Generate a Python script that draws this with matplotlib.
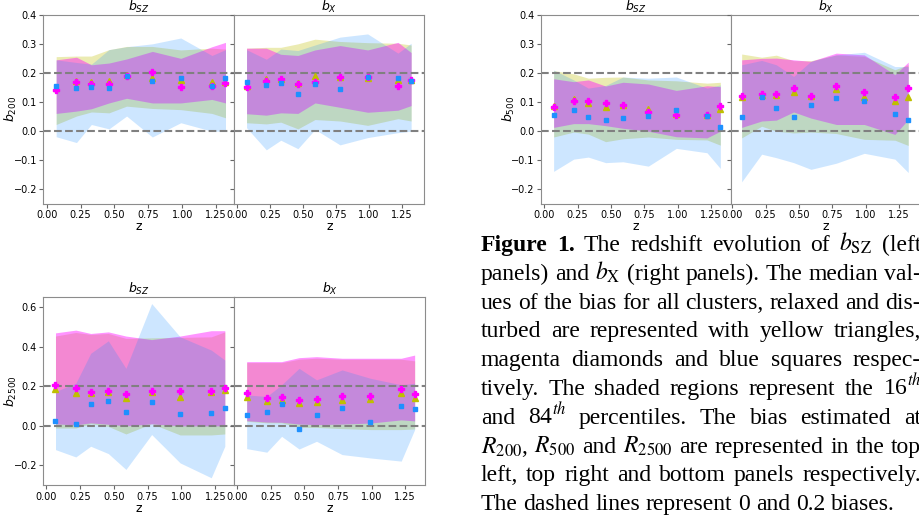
import matplotlib
matplotlib.use("Agg")
import matplotlib.pyplot as plt

# redshift snapshots
z = [0.07, 0.22, 0.33, 0.46, 0.59, 0.78, 0.99, 1.22, 1.32]

# ---- b200, SZ ----
b200_sz_all = [0.147, 0.171, 0.170, 0.172, 0.193, 0.181, 0.176, 0.168, 0.168]
b200_sz_rel = [0.143, 0.169, 0.161, 0.162, 0.191, 0.204, 0.152, 0.156, 0.166]
b200_sz_dis = [0.156, 0.147, 0.153, 0.150, 0.191, 0.173, 0.183, 0.156, 0.184]
b200_sz_all_lo = [0.023, 0.052, 0.066, 0.063, 0.086, 0.078, 0.074, 0.061, 0.046]
b200_sz_all_hi = [0.256, 0.258, 0.258, 0.280, 0.291, 0.291, 0.279, 0.285, 0.282]
b200_sz_rel_lo = [0.061, 0.069, 0.077, 0.097, 0.113, 0.097, 0.097, 0.109, 0.097]
b200_sz_rel_hi = [0.245, 0.254, 0.228, 0.234, 0.248, 0.274, 0.250, 0.290, 0.305]
b200_sz_dis_lo = [-0.019, -0.039, 0.023, 0.008, 0.052, -0.020, 0.029, 0.000, 0.000]
b200_sz_dis_hi = [0.245, 0.236, 0.230, 0.280, 0.290, 0.300, 0.320, 0.260, 0.280]

# ---- b200, X ----
b200_x_all = [0.156, 0.179, 0.179, 0.165, 0.191, 0.185, 0.181, 0.177, 0.176]
b200_x_rel = [0.152, 0.173, 0.178, 0.162, 0.169, 0.186, 0.185, 0.154, 0.177]
b200_x_dis = [0.168, 0.158, 0.167, 0.127, 0.163, 0.145, 0.185, 0.183, 0.171]
b200_x_all_lo = [0.029, 0.025, 0.031, 0.008, 0.040, 0.035, 0.020, 0.043, 0.035]
b200_x_all_hi = [0.285, 0.288, 0.288, 0.300, 0.316, 0.308, 0.304, 0.302, 0.296]
b200_x_rel_lo = [0.060, 0.055, 0.063, 0.061, 0.097, 0.082, 0.065, 0.072, 0.088]
b200_x_rel_hi = [0.285, 0.285, 0.264, 0.260, 0.279, 0.294, 0.279, 0.305, 0.270]
b200_x_dis_lo = [0.012, -0.064, -0.031, -0.060, 0.006, -0.047, -0.022, -0.005, 0.000]
b200_x_dis_hi = [0.280, 0.247, 0.282, 0.277, 0.296, 0.323, 0.334, 0.268, 0.302]

# ---- b500, SZ ----
b500_sz_all = [0.088, 0.109, 0.097, 0.082, 0.091, 0.076, 0.060, 0.057, 0.077]
b500_sz_rel = [0.082, 0.104, 0.104, 0.098, 0.090, 0.066, 0.056, 0.054, 0.088]
b500_sz_dis = [0.054, 0.074, 0.048, 0.038, 0.046, 0.053, 0.073, 0.051, 0.015]
b500_sz_all_lo = [-0.020, -0.003, -0.010, -0.036, -0.026, -0.020, -0.028, -0.030, -0.048]
b500_sz_all_hi = [0.208, 0.197, 0.182, 0.185, 0.186, 0.176, 0.173, 0.165, 0.168]
b500_sz_rel_lo = [0.013, 0.026, 0.026, 0.019, 0.010, 0.000, -0.019, -0.023, 0.000]
b500_sz_rel_hi = [0.180, 0.170, 0.176, 0.155, 0.168, 0.162, 0.140, 0.156, 0.153]
b500_sz_dis_lo = [-0.138, -0.096, -0.089, -0.108, -0.105, -0.120, -0.059, -0.074, -0.128]
b500_sz_dis_hi = [0.210, 0.176, 0.148, 0.157, 0.186, 0.182, 0.186, 0.148, 0.159]

# ---- b500, X ----
b500_x_all = [0.117, 0.125, 0.125, 0.136, 0.120, 0.146, 0.118, 0.105, 0.117]
b500_x_rel = [0.120, 0.127, 0.127, 0.147, 0.121, 0.156, 0.136, 0.118, 0.147]
b500_x_dis = [0.049, 0.118, 0.080, 0.048, 0.090, 0.114, 0.105, 0.060, 0.040]
b500_x_all_lo = [-0.023, 0.017, 0.000, -0.006, -0.003, -0.008, -0.028, -0.031, -0.049]
b500_x_all_hi = [0.265, 0.254, 0.261, 0.242, 0.242, 0.262, 0.257, 0.211, 0.228]
b500_x_rel_lo = [0.013, 0.035, 0.038, 0.066, 0.045, 0.023, 0.023, -0.011, 0.040]
b500_x_rel_hi = [0.245, 0.250, 0.251, 0.245, 0.240, 0.268, 0.262, 0.194, 0.237]
b500_x_dis_lo = [-0.174, -0.079, -0.091, -0.108, -0.131, -0.110, -0.076, -0.096, -0.142]
b500_x_dis_hi = [0.228, 0.243, 0.228, 0.188, 0.240, 0.262, 0.271, 0.222, 0.222]

# ---- b2500, SZ ----
b2500_sz_all = [0.187, 0.168, 0.168, 0.173, 0.141, 0.173, 0.146, 0.173, 0.182]
b2500_sz_rel = [0.207, 0.193, 0.170, 0.178, 0.163, 0.177, 0.175, 0.177, 0.190]
b2500_sz_dis = [0.026, 0.009, 0.110, 0.123, 0.068, 0.120, 0.061, 0.064, 0.091]
b2500_sz_all_lo = [-0.011, -0.011, 0.011, -0.003, -0.041, 0.011, -0.046, -0.046, -0.041]
b2500_sz_all_hi = [0.453, 0.471, 0.461, 0.466, 0.441, 0.444, 0.446, 0.449, 0.474]
b2500_sz_rel_lo = [0.010, 0.005, 0.015, 0.008, 0.000, 0.010, 0.000, 0.000, 0.000]
b2500_sz_rel_hi = [0.469, 0.483, 0.466, 0.474, 0.453, 0.435, 0.453, 0.480, 0.480]
b2500_sz_dis_lo = [-0.120, -0.157, -0.103, -0.140, -0.220, -0.044, -0.187, -0.262, -0.103]
b2500_sz_dis_hi = [0.173, 0.215, 0.366, 0.429, 0.290, 0.617, 0.449, 0.382, 0.332]

# ---- b2500, X ----
b2500_x_all = [0.148, 0.123, 0.131, 0.115, 0.118, 0.131, 0.135, 0.168, 0.141]
b2500_x_rel = [0.168, 0.140, 0.145, 0.131, 0.137, 0.151, 0.151, 0.184, 0.159]
b2500_x_dis = [0.053, 0.069, 0.108, -0.014, 0.053, 0.091, 0.018, 0.101, 0.084]
b2500_x_all_lo = [0.023, 0.015, 0.015, -0.008, -0.008, -0.014, -0.019, -0.019, -0.016]
b2500_x_all_hi = [0.319, 0.319, 0.319, 0.336, 0.341, 0.336, 0.336, 0.336, 0.328]
b2500_x_rel_lo = [0.026, 0.019, 0.018, 0.009, 0.006, 0.009, 0.014, 0.030, 0.025]
b2500_x_rel_hi = [0.324, 0.324, 0.324, 0.344, 0.349, 0.341, 0.341, 0.341, 0.357]
b2500_x_dis_lo = [-0.115, -0.133, -0.053, -0.117, -0.078, -0.145, -0.162, -0.178, -0.019]
b2500_x_dis_hi = [0.156, 0.148, 0.207, 0.290, 0.232, 0.282, 0.240, 0.207, 0.215]

caption = [
    r"Figure 1. The redshift evolution of $b_\mathrm{SZ}$ (left",
    r"panels) and $b_\mathrm{X}$ (right panels). The median val-",
    r"ues of the bias for all clusters, relaxed and dis-",
    r"turbed are represented with yellow triangles,",
    r"magenta diamonds and blue squares respec-",
    r"tively. The shaded regions represent the 16$^{th}$",
    r"and 84$^{th}$ percentiles. The bias estimated at",
    r"$R_{200}$, $R_{500}$ and $R_{2500}$ are represented in the top",
    r"left, top right and bottom panels respectively.",
    r"The dashed lines represent 0 and 0.2 biases.",
]

W, H = 919, 521
fig = plt.figure(figsize=(W / 100, H / 100), dpi=100)


def box(x0, x1, ytop, ybot):
    return [x0 / W, 1 - ybot / H, (x1 - x0) / W, (ybot - ytop) / H]


def panel(ax, med, lo, hi, xlim, ylim, yticks, title, ylabel=None):
    a_m, r_m, d_m = med
    a_lo, r_lo, d_lo = lo
    a_hi, r_hi, d_hi = hi
    ax.fill_between(z, a_lo, a_hi, color="y", alpha=0.3, lw=0)
    ax.fill_between(z, r_lo, r_hi, color="magenta", alpha=0.42, lw=0)
    ax.fill_between(z, d_lo, d_hi, color="dodgerblue", alpha=0.22, lw=0)
    ax.axhline(0, color="gray", ls="--", lw=1.5)
    ax.axhline(0.2, color="gray", ls="--", lw=1.5)
    ax.plot(z, a_m, "^", color="y", ms=4, ls="none")
    ax.plot(z, r_m, "P", color="magenta", ms=4.5, ls="none")
    ax.plot(z, d_m, "s", color="dodgerblue", ms=3.5, ls="none")
    ax.set_xlim(*xlim)
    ax.set_ylim(*ylim)
    ax.set_yticks(yticks)
    ax.set_xticks([0, 0.25, 0.5, 0.75, 1.0, 1.25])
    ax.tick_params(labelsize=7, length=3, color="0.4", pad=1.5)
    for s in ax.spines.values():
        s.set_color("0.55")
    ax.set_title(title, fontsize=9, pad=1.5)
    ax.set_xlabel("z", fontsize=9, labelpad=0)
    if ylabel:
        ax.set_ylabel(ylabel, fontsize=9)
        ax.yaxis.set_label_coords(-0.125, 0.5)
    else:
        ax.tick_params(labelleft=False)


top_ticks = [-0.2, -0.1, 0.0, 0.1, 0.2, 0.3, 0.4]
bot_ticks = [-0.2, 0.0, 0.2, 0.4, 0.6]

ax = fig.add_axes(box(43.3, 234.3, 14.7, 204))
panel(ax, (b200_sz_all, b200_sz_rel, b200_sz_dis),
      (b200_sz_all_lo, b200_sz_rel_lo, b200_sz_dis_lo),
      (b200_sz_all_hi, b200_sz_rel_hi, b200_sz_dis_hi),
      (-0.025, 1.385), (-0.25, 0.4), top_ticks, r"$b_{SZ}$", r"$b_{200}$")
ax = fig.add_axes(box(234.3, 424.3, 14.7, 204))
panel(ax, (b200_x_all, b200_x_rel, b200_x_dis),
      (b200_x_all_lo, b200_x_rel_lo, b200_x_dis_lo),
      (b200_x_all_hi, b200_x_rel_hi, b200_x_dis_hi),
      (-0.023, 1.42), (-0.25, 0.4), top_ticks, r"$b_{X}$")

ax = fig.add_axes(box(540.7, 731, 14.7, 204))
panel(ax, (b500_sz_all, b500_sz_rel, b500_sz_dis),
      (b500_sz_all_lo, b500_sz_rel_lo, b500_sz_dis_lo),
      (b500_sz_all_hi, b500_sz_rel_hi, b500_sz_dis_hi),
      (-0.027, 1.40), (-0.25, 0.4), top_ticks, r"$b_{SZ}$", r"$b_{500}$")
ax = fig.add_axes(box(731, 921.3, 14.7, 204))
panel(ax, (b500_x_all, b500_x_rel, b500_x_dis),
      (b500_x_all_lo, b500_x_rel_lo, b500_x_dis_lo),
      (b500_x_all_hi, b500_x_rel_hi, b500_x_dis_hi),
      (-0.01, 1.418), (-0.25, 0.4), top_ticks, r"$b_{X}$")

ax = fig.add_axes(box(43.3, 234.3, 297, 485.3))
panel(ax, (b2500_sz_all, b2500_sz_rel, b2500_sz_dis),
      (b2500_sz_all_lo, b2500_sz_rel_lo, b2500_sz_dis_lo),
      (b2500_sz_all_hi, b2500_sz_rel_hi, b2500_sz_dis_hi),
      (-0.02, 1.39), (-0.3, 0.65), bot_ticks, r"$b_{SZ}$", r"$b_{2500}$")
ax = fig.add_axes(box(234.3, 425, 297, 485.3))
panel(ax, (b2500_x_all, b2500_x_rel, b2500_x_dis),
      (b2500_x_all_lo, b2500_x_rel_lo, b2500_x_dis_lo),
      (b2500_x_all_hi, b2500_x_rel_hi, b2500_x_dis_hi),
      (-0.022, 1.397), (-0.3, 0.65), bot_ticks, r"$b_{X}$")

# caption, justified like the paper column (the column runs past the crop edge)
renderer = fig.canvas.get_renderer()
left_px, right_px = 480.7, 921.0
for i, line in enumerate(caption):
    y = 1 - (251 + i * 28.8) / H
    words = line.split()
    texts = []
    for j, w in enumerate(words):
        bold = (i == 0 and j < 2)
        t = fig.text(0, y, w, fontsize=17, family="Liberation Serif",
                     math_fontfamily="stix", va="baseline",
                     weight="bold" if bold else "normal")
        texts.append(t)
    widths = [t.get_window_extent(renderer).width for t in texts]
    if i == len(caption) - 1:
        gap = 0.25 * 17 * 100 / 72
    else:
        gap = (right_px - left_px - sum(widths)) / (len(words) - 1)
    x = left_px
    for t, wd in zip(texts, widths):
        t.set_x(x / W)
        x += wd + gap

fig.savefig("out.png", dpi=100)
